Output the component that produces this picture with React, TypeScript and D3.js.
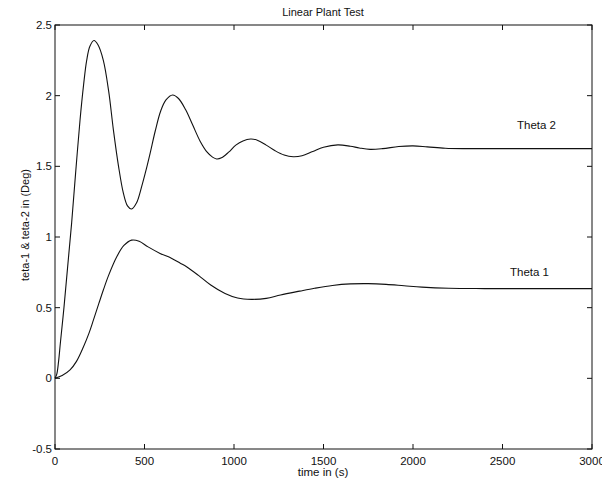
import React from "react";
import * as d3 from "d3";

const timeTheta2 = [0, 10, 20, 30, 50, 70, 93, 115, 140, 160, 177, 195, 218, 240, 270, 300, 326, 355, 382, 405, 428, 455, 484, 510, 531, 560, 590, 620, 657, 690, 730, 770, 810, 850, 880, 903, 930, 970, 1010, 1050, 1093, 1130, 1180, 1230, 1280, 1331, 1380, 1440, 1500, 1580, 1650, 1700, 1760, 1830, 1920, 2000, 2080, 2180, 2300, 2500, 3000];
const theta2 = [0, 0.03, 0.12, 0.25, 0.5, 0.78, 1.1, 1.45, 1.83, 2.08, 2.25, 2.35, 2.39, 2.36, 2.25, 2.03, 1.76, 1.5, 1.31, 1.22, 1.198, 1.24, 1.356, 1.48, 1.59, 1.75, 1.89, 1.97, 2.005, 1.98, 1.9, 1.79, 1.68, 1.6, 1.565, 1.552, 1.56, 1.6, 1.65, 1.68, 1.693, 1.685, 1.65, 1.61, 1.58, 1.568, 1.575, 1.605, 1.635, 1.652, 1.642, 1.63, 1.62, 1.625, 1.64, 1.645, 1.638, 1.628, 1.625, 1.625, 1.625];

const timeTheta1 = [0, 40, 84, 120, 158, 190, 214, 245, 270, 300, 345, 385, 428, 470, 520, 587, 650, 700, 735, 800, 870, 950, 1020, 1098, 1180, 1260, 1367, 1450, 1550, 1650, 1750, 1850, 1950, 2050, 2200, 2400, 2700, 3000];
const theta1 = [0, 0.02, 0.06, 0.12, 0.22, 0.32, 0.41, 0.53, 0.625, 0.73, 0.86, 0.94, 0.978, 0.97, 0.93, 0.884, 0.85, 0.815, 0.79, 0.73, 0.66, 0.6, 0.568, 0.559, 0.566, 0.59, 0.617, 0.637, 0.657, 0.668, 0.67, 0.665, 0.655, 0.645, 0.637, 0.635, 0.635, 0.635];

const xTicks = [0, 500, 1000, 1500, 2000, 2500, 3000];
const yTicks = [-0.5, 0, 0.5, 1, 1.5, 2, 2.5];
const xTickLabels = ["0", "500", "1000", "1500", "2000", "2500", "3000"];
const yTickLabels = ["-0.5", "0", "0.5", "1", "1.5", "2", "2.5"];

const W = 602, H = 481;
const L = 55, R = 592, T = 25, B = 449;
const font = "Arial, 'Liberation Sans', Helvetica, sans-serif";

export default function App() {
  const x = d3.scaleLinear().domain([0, 3000]).range([L, R]);
  const y = d3.scaleLinear().domain([-0.5, 2.5]).range([B, T]);
  const line = d3
    .line<[number, number]>()
    .x((d) => x(d[0]))
    .y((d) => y(d[1]))
    .curve(d3.curveCatmullRom.alpha(0.5));
  const d2 = line(timeTheta2.map((t, i) => [t, theta2[i]] as [number, number])) || "";
  const d1 = line(timeTheta1.map((t, i) => [t, theta1[i]] as [number, number])) || "";
  const tl = 5;
  return (
    <svg
      width={W}
      height={H}
      style={{ position: "absolute", left: 0, top: 0, background: "#fff" }}
      fontFamily={font}
    >
      <rect x={0} y={0} width={W} height={H} fill="#fff" />
      <rect x={L} y={T} width={R - L} height={B - T} fill="none" stroke="#111" strokeWidth={1} />
      {xTicks.map((t, i) => (
        <g key={"x" + i}>
          <line x1={x(t)} x2={x(t)} y1={B} y2={B - tl} stroke="#111" />
          <line x1={x(t)} x2={x(t)} y1={T} y2={T + tl} stroke="#111" />
          <text x={x(t)} y={465} textAnchor="middle" fontSize={11.5} fill="#111">
            {xTickLabels[i]}
          </text>
        </g>
      ))}
      {yTicks.map((t, i) => (
        <g key={"y" + i}>
          <line x1={L} x2={L + tl} y1={y(t)} y2={y(t)} stroke="#111" />
          <line x1={R} x2={R - tl} y1={y(t)} y2={y(t)} stroke="#111" />
          <text x={52} y={y(t) + 4} textAnchor="end" fontSize={11.5} fill="#111">
            {yTickLabels[i]}
          </text>
        </g>
      ))}
      <path d={d2} fill="none" stroke="#111" strokeWidth={1.1} />
      <path d={d1} fill="none" stroke="#111" strokeWidth={1.1} />
      <text x={517} y={128.5} fontSize={11.5} fill="#111">Theta 2</text>
      <text x={510} y={276} fontSize={11.5} fill="#111">Theta 1</text>
      <text x={323} y={16} textAnchor="middle" fontSize={11} fill="#111">Linear Plant Test</text>
      <text x={323} y={476} textAnchor="middle" fontSize={11.5} fill="#111">time in (s)</text>
      <text
        transform={`translate(29, 225) rotate(-90)`}
        textAnchor="middle"
        fontSize={11}
        fill="#111"
      >
        teta-1 &amp; teta-2 in (Deg)
      </text>
    </svg>
  );
}
